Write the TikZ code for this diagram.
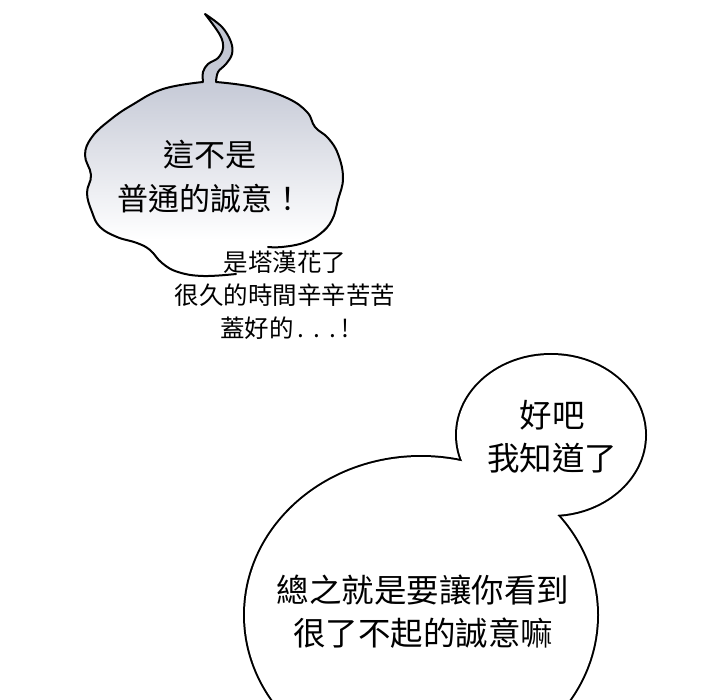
\documentclass[tikz,border=0pt]{standalone}
\usepackage{fontspec}
\newfontfamily\cjk{Noto Sans CJK TC}
\definecolor{cloudtop}{HTML}{BEC2CE}
\definecolor{cloudhi}{HTML}{C8CCD8}
\definecolor{cloudmid}{HTML}{DFE1E8}
\definecolor{cloudlow}{HTML}{EEEFF3}
\pgfdeclareverticalshading{cloudshade}{100bp}{color(0bp)=(white); color(25bp)=(white); color(32bp)=(white); color(41bp)=(cloudlow); color(49bp)=(cloudmid); color(61bp)=(cloudhi); color(75bp)=(cloudtop); color(100bp)=(cloudtop)}
\tikzset{
  outline/.style={line width=2pt, line join=round, line cap=round, black},
  bigtxt/.style={font=\cjk\fontsize{31}{44}\selectfont, align=center, inner sep=0pt},
  smalltxt/.style={font=\cjk\fontsize{24.5}{33}\selectfont, align=center, inner sep=0pt},
  rtxt/.style={font=\cjk\fontsize{32.5}{43}\selectfont, align=center, inner sep=0pt},
}
\begin{document}
\begin{tikzpicture}[x=1pt,y=-1pt]
\useasboundingbox (0,0) rectangle (720,700);
\clip (0,0) rectangle (720,700);
\fill[white] (0,0) rectangle (720,700);
% cloud fill
\shade[shading=cloudshade]
  plot[smooth, tension=0.7] coordinates {(265,247) (250,260) (236,274) (203,276) (178,272) (162,263) (150,250) (137,243) (117,237) (100,227) (92,212) (87,193) (91,175) (85,155) (92,137) (110,120) (132,105) (163,89) (203,82)}
  -- plot[smooth, tension=0.6] coordinates {(203,82) (203,72) (208,64) (218,58) (223,48) (220,35) (205,14)}
  -- plot[smooth, tension=0.6] coordinates {(205,14) (222,27) (231,42) (232,54) (226,64) (218,72) (216,82)}
  -- plot[smooth, tension=0.7] coordinates {(216,82) (253,87) (287,98) (307,112) (315,127) (328,138) (338,154) (343,178) (338,200) (332,220) (320,234) (303,243) (282,247) (265,247)}
  -- cycle;
% cloud outline
\draw[outline]
  plot[smooth, tension=0.7] coordinates {(236,274) (203,276) (178,272) (162,263) (150,250) (137,243) (117,237) (100,227) (92,212) (87,193) (91,175) (85,155) (92,137) (110,120) (132,105) (163,89) (203,82)}
  -- plot[smooth, tension=0.6] coordinates {(203,82) (203,72) (208,64) (218,58) (223,48) (220,35) (205,14)}
  -- plot[smooth, tension=0.6] coordinates {(205,14) (222,27) (231,42) (232,54) (226,64) (218,72) (216,82)}
  -- plot[smooth, tension=0.7] coordinates {(216,82) (253,87) (287,98) (307,112) (315,127) (328,138) (338,154) (343,178) (338,200) (332,220) (320,234) (303,243) (282,247) (268,247)};
% speech bubbles (union of two ellipses)
\draw[line width=4pt] (551,435) ellipse [x radius=94, y radius=80];
\draw[line width=4pt] (421,615) ellipse [x radius=176, y radius=158];
\fill[white] (551,435) ellipse [x radius=94, y radius=80];
\fill[white] (421,615) ellipse [x radius=176, y radius=158];
% texts
\node[bigtxt] (t1) at (210,177) {這不是\\普通的誠意！};
\node[smalltxt] (t2) at (285,295) {是塔漢花了\\很久的時間辛辛苦苦\\蓋好的\kern4pt.\kern9pt.\kern9pt.\kern6pt!};
\node[rtxt] (t3) at (552,437) {好吧\\我知道了};
\node[rtxt] (t4) at (423,612) {總之就是要讓你看到\\很了不起的誠意嘛};
\end{tikzpicture}
\end{document}
